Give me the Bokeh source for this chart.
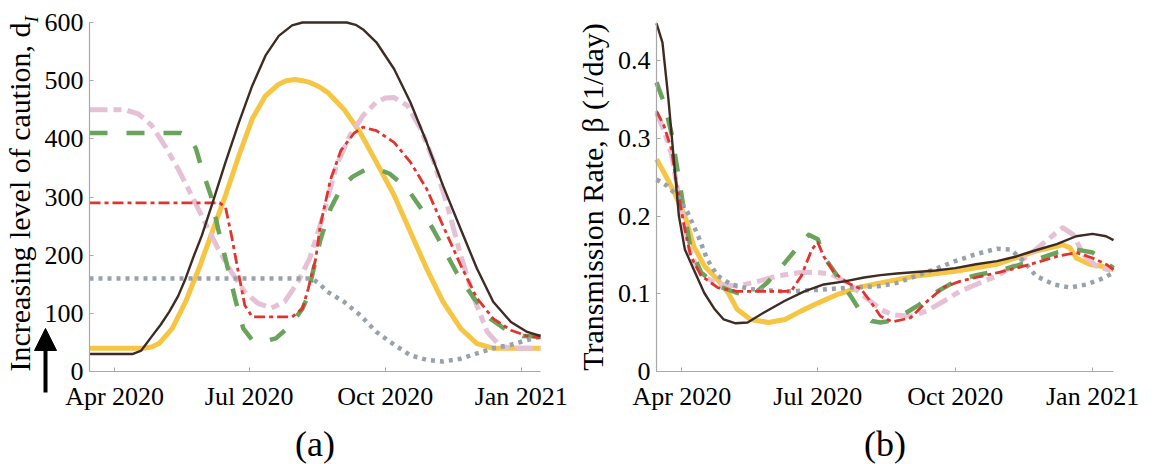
from math import pi
from bokeh.plotting import figure
from bokeh.layouts import row
from bokeh.models import Range1d, FixedTicker, NumeralTickFormatter, Arrow, NormalHead, Label
from bokeh.embed import file_html
from bokeh.resources import INLINE

# x = days since 15 Mar 2020
tick_days = [17, 108, 200, 292]
tick_labels = ["Apr 2020", "Jul 2020", "Oct 2020", "Jan 2021"]

# ---------- panel (a): d_I ----------
a_brown_days = [0, 29, 35, 42, 48, 54, 60, 65, 70, 76, 83, 92, 101, 110, 119, 128, 137, 144, 174, 180, 185, 194, 206, 217, 228, 239, 251, 262, 273, 285, 296, 305]
a_brown_vals = [30, 30, 36, 60, 80, 103, 130, 160, 195, 234, 288, 360, 428, 491, 543, 577, 595, 600, 600, 596, 588, 566, 520, 463, 394, 320, 245, 177, 120, 85, 68, 61]

a_yellow_days = [0, 36, 42, 47, 56, 65, 74, 83, 92, 101, 110, 119, 128, 133, 139, 144, 149, 155, 161, 172, 183, 194, 206, 217, 228, 239, 251, 262, 273, 305]
a_yellow_vals = [40, 40, 42, 48, 74, 120, 177, 240, 303, 371, 434, 474, 494, 500, 502, 500, 497, 490, 480, 451, 411, 360, 303, 240, 177, 120, 74, 48, 40, 40]

a_pink_days = [0, 24, 33, 42, 51, 60, 69, 78, 87, 96, 105, 114, 123, 132, 141, 149, 158, 167, 176, 185, 194, 200, 206, 215, 224, 233, 242, 251, 260, 269, 278, 287, 305]
a_pink_vals = [450, 450, 443, 423, 388, 348, 303, 257, 211, 171, 137, 117, 109, 120, 154, 195, 268, 354, 405, 440, 463, 470, 471, 457, 417, 360, 285, 200, 126, 68, 43, 40, 40]

a_green_days = [0, 62, 68, 72, 76, 82, 87, 93, 99, 104, 110, 117, 126, 135, 144, 147, 151, 156, 163, 170, 178, 186, 194, 203, 215, 226, 237, 248, 260, 271, 282, 293, 305]
a_green_vals = [410, 410, 402, 383, 348, 303, 245, 183, 120, 74, 54, 51, 57, 77, 108, 125, 170, 225, 280, 315, 335, 346, 349, 340, 314, 274, 223, 171, 126, 91, 71, 61, 60]

a_red_days = [0, 88, 92, 96, 101, 105, 110, 137, 144, 148, 153, 156, 163, 170, 179, 185, 194, 206, 217, 228, 239, 251, 262, 273, 285, 296, 305]
a_red_vals = [290, 290, 282, 234, 166, 114, 94, 94, 108, 143, 194, 250, 330, 380, 410, 420, 414, 394, 360, 314, 251, 183, 126, 91, 71, 61, 58]

a_gray_days = [0, 150, 155, 161, 172, 183, 194, 206, 217, 228, 239, 251, 262, 273, 285, 296, 305]
a_gray_vals = [160, 160, 152, 137, 120, 97, 68, 46, 28, 20, 17, 22, 31, 40, 46, 54, 60]

# ---------- panel (b): beta ----------
b_brown_days = [0, 4, 8, 12, 15, 19, 25, 32, 39, 45, 53, 61, 72, 86, 99, 112, 126, 139, 150, 161, 174, 187, 200, 214, 228, 241, 254, 268, 281, 292, 301, 306]
b_brown_vals = [0.448, 0.423, 0.350, 0.264, 0.200, 0.157, 0.131, 0.101, 0.080, 0.067, 0.062, 0.063, 0.076, 0.091, 0.103, 0.112, 0.116, 0.121, 0.124, 0.126, 0.128, 0.130, 0.133, 0.138, 0.142, 0.148, 0.156, 0.164, 0.174, 0.177, 0.174, 0.169]

b_yellow_days = [0, 5, 12, 19, 25, 32, 41, 48, 54, 63, 75, 86, 97, 108, 121, 135, 150, 174, 200, 228, 254, 272, 277, 281, 290, 299, 306]
b_yellow_vals = [0.273, 0.256, 0.230, 0.200, 0.161, 0.136, 0.118, 0.101, 0.080, 0.067, 0.063, 0.067, 0.078, 0.088, 0.099, 0.108, 0.114, 0.123, 0.129, 0.138, 0.155, 0.163, 0.159, 0.146, 0.138, 0.135, 0.131]

b_pink_days = [0, 5, 10, 14, 19, 23, 30, 41, 54, 68, 81, 95, 106, 117, 128, 139, 150, 158, 170, 181, 192, 203, 214, 228, 241, 254, 266, 272, 279, 286, 295, 306]
b_pink_vals = [0.333, 0.310, 0.280, 0.235, 0.185, 0.150, 0.125, 0.112, 0.110, 0.116, 0.123, 0.127, 0.128, 0.125, 0.114, 0.097, 0.080, 0.073, 0.071, 0.078, 0.090, 0.103, 0.112, 0.123, 0.138, 0.157, 0.176, 0.185, 0.176, 0.150, 0.135, 0.129]

b_green_days = [0, 5, 10, 14, 19, 23, 30, 41, 54, 66, 74, 86, 95, 102, 108, 112, 121, 130, 137, 144, 150, 156, 165, 176, 188, 200, 214, 228, 241, 254, 268, 281, 292, 301, 306]
b_green_vals = [0.372, 0.346, 0.307, 0.260, 0.200, 0.157, 0.127, 0.110, 0.101, 0.101, 0.114, 0.140, 0.161, 0.176, 0.170, 0.148, 0.123, 0.097, 0.076, 0.065, 0.063, 0.065, 0.073, 0.086, 0.103, 0.116, 0.124, 0.129, 0.136, 0.144, 0.153, 0.157, 0.153, 0.140, 0.133]

b_red_days = [0, 5, 10, 14, 19, 23, 30, 41, 54, 90, 97, 104, 108, 112, 119, 128, 137, 144, 150, 158, 170, 181, 192, 203, 214, 228, 241, 254, 268, 281, 292, 301, 306]
b_red_vals = [0.335, 0.316, 0.286, 0.234, 0.183, 0.148, 0.123, 0.108, 0.103, 0.103, 0.123, 0.157, 0.166, 0.148, 0.127, 0.114, 0.106, 0.088, 0.071, 0.064, 0.069, 0.090, 0.108, 0.116, 0.121, 0.127, 0.133, 0.140, 0.148, 0.153, 0.146, 0.138, 0.131]

b_gray_days = [0, 7, 14, 21, 28, 34, 41, 50, 63, 86, 108, 130, 150, 161, 174, 188, 200, 214, 228, 237, 246, 254, 266, 277, 288, 299, 306]
b_gray_vals = [0.247, 0.239, 0.226, 0.204, 0.174, 0.144, 0.123, 0.112, 0.106, 0.103, 0.105, 0.108, 0.110, 0.114, 0.123, 0.133, 0.142, 0.151, 0.158, 0.157, 0.142, 0.123, 0.112, 0.108, 0.112, 0.120, 0.127]

FONT = "Liberation Serif"
STY = {
    "yellow": dict(line_color="#f7c544", line_width=5),
    "pink": dict(line_color="#e6c1d6", line_width=5, line_dash="18 6 8 6"),
    "green": dict(line_color="#6aa35b", line_width=4.5, line_dash="18 19"),
    "gray": dict(line_color="#98a2ad", line_width=4.5, line_dash="4 5"),
    "red": dict(line_color="#e0342c", line_width=2.8, line_dash="11 4 4 4"),
    "brown": dict(line_color="#3d2b24", line_width=2.4),
}


def make_panel(width, left, plot_w, right, x_end, y_end, xlabel, ylabel, yticks):
    """Frame covers the whole figure; axes sit at fixed data locations (x=0, y=0),
    so marks beside the axes (arrow, subscript) are not clipped."""
    top, plot_h, bottom = 22, 349, 93
    ppx = plot_w / x_end
    ppy = plot_h / y_end
    p = figure(frame_width=width, frame_height=top + plot_h + bottom, min_border=0, title=None,
               output_backend="svg", toolbar_location=None,
               x_range=Range1d(-left / ppx, x_end + right / ppx),
               y_range=Range1d(-bottom / ppy, y_end + top / ppy))
    p.outline_line_color = None
    p.grid.visible = False
    p.background_fill_color = "white"
    p.border_fill_color = "white"
    p.xaxis.ticker = FixedTicker(ticks=tick_days)
    p.xaxis.major_label_overrides = {d: l for d, l in zip(tick_days, tick_labels)}
    p.yaxis.ticker = FixedTicker(ticks=yticks)
    p.xaxis.fixed_location = 0
    p.yaxis.fixed_location = 0
    p.xaxis.bounds = (0, x_end)
    p.yaxis.bounds = (0, y_end)
    for ax in (p.xaxis[0], p.yaxis[0]):
        ax.axis_line_color = "#a8a8a8"
        ax.axis_line_width = 1.2
        ax.major_tick_in = 4
        ax.major_tick_out = 0
        ax.major_tick_line_color = "#a8a8a8"
        ax.minor_tick_line_color = None
        ax.major_label_text_font = FONT
        ax.major_label_text_font_size = "26px"
        ax.major_label_text_color = "black"
        ax.axis_label_text_font = FONT
        ax.axis_label_text_font_style = "normal"
        ax.axis_label_text_color = "black"
    p.xaxis.axis_label = xlabel
    p.xaxis.axis_label_text_font_size = "36px"
    p.xaxis.major_label_standoff = 10
    p.xaxis.axis_label_standoff = 10
    p.yaxis.axis_label = ylabel
    p.yaxis.axis_label_text_font_size = "30px"
    p.yaxis.major_label_standoff = 6
    p.yaxis.axis_label_standoff = 6
    return p


p1 = make_panel(575, 89, 451, 35, 305, 600, "(a)", "Increasing level of caution, d", [0, 100, 200, 300, 400, 500, 600])
p1.line(a_yellow_days, a_yellow_vals, line_join="round", **STY["yellow"])
p1.line(a_pink_days, a_pink_vals, line_join="round", **STY["pink"])
p1.line(a_green_days, a_green_vals, line_join="round", **STY["green"])
p1.line(a_gray_days, a_gray_vals, line_join="round", **STY["gray"])
p1.line(a_red_days, a_red_vals, line_join="round", **STY["red"])
p1.line(a_brown_days, a_brown_vals, line_join="round", **STY["brown"])
p1.add_layout(Arrow(x_start=-29.75, y_start=-36, x_end=-29.75, y_end=74, line_width=4, line_color="black",
                    end=NormalHead(size=22, fill_color="black", line_color="black")))
p1.add_layout(Label(x=-39.5, y=600, text="I", angle=pi / 2, text_font=FONT, text_font_style="italic",
                    text_font_size="19px", text_color="black", text_align="left", text_baseline="alphabetic"))

p2 = make_panel(579, 81, 457, 41, 306, 0.449, "(b)", "Transmission Rate, β (1/day)", [0, 0.1, 0.2, 0.3, 0.4])
p2.yaxis.formatter = NumeralTickFormatter(format="0.[0]")
p2.line(b_yellow_days, b_yellow_vals, line_join="round", **STY["yellow"])
p2.line(b_pink_days, b_pink_vals, line_join="round", **STY["pink"])
p2.line(b_green_days, b_green_vals, line_join="round", **STY["green"])
p2.line(b_gray_days, b_gray_vals, line_join="round", **STY["gray"])
p2.line(b_red_days, b_red_vals, line_join="round", **STY["red"])
p2.line(b_brown_days, b_brown_vals, line_join="round", **STY["brown"])

layout = row(p1, p2, spacing=0)
open("out.html", "w").write(file_html(layout, INLINE))
